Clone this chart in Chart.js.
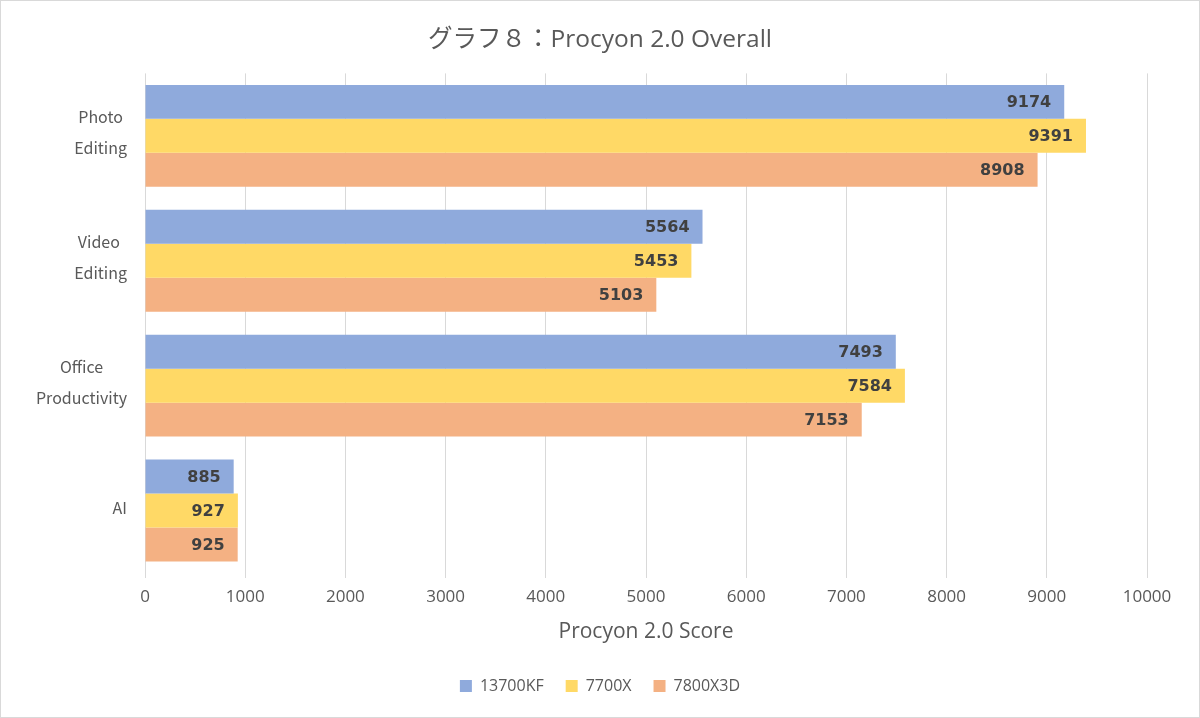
<!DOCTYPE html>
<html>
<head>
<meta charset="utf-8">
<script src="https://cdn.jsdelivr.net/npm/chart.js@4.4.0/dist/chart.umd.min.js"></script>
<style>
  html, body { margin:0; padding:0; background:#fff; }
  #wrap { width:1200px; height:718px; position:relative; }
</style>
</head>
<body>
<div id="wrap"><canvas id="chart" width="1200" height="718"></canvas></div>
<script>
const categorias = [['Photo', 'Editing'], ['Video ', 'Editing'], ['Office', 'Productivity'], ['AI']];
const series     = ['13700KF', '7700X', '7800X3D'];
const v13700KF   = [9174, 5564, 7493, 885];
const v7700X     = [9391, 5453, 7584, 927];
const v7800X3D   = [8908, 5103, 7153, 925];
const colores    = ['#8faadc', '#ffd966', '#f4b183'];
const ticksX     = [0, 1000, 2000, 3000, 4000, 5000, 6000, 7000, 8000, 9000, 10000];

const TXT = '#595959';
const FONT = '"Noto Sans CJK JP", "Open Sans", sans-serif';
const FONT_LAT = '"Open Sans", "Noto Sans CJK JP", sans-serif';

// etiquetas de valor dentro del final de cada barra
const valorPlugin = {
  id: 'valores',
  afterDatasetsDraw(chart) {
    const ctx = chart.ctx;
    ctx.save();
    ctx.font = 'bold 16px "DejaVu Sans", sans-serif';
    ctx.fillStyle = '#404040';
    ctx.textAlign = 'right';
    ctx.textBaseline = 'middle';
    chart.data.datasets.forEach((ds, i) => {
      chart.getDatasetMeta(i).data.forEach((bar, j) => {
        ctx.fillText(String(ds.data[j]), bar.x - 13, bar.y + 1);
      });
    });
    ctx.restore();
  }
};

// categorias a la izquierda: bloque alineado a la derecha, lineas centradas
const catPlugin = {
  id: 'categorias',
  afterDraw(chart) {
    const ctx = chart.ctx;
    const y = chart.scales.y;
    ctx.save();
    ctx.font = '16px ' + FONT;
    ctx.fillStyle = TXT;
    ctx.textAlign = 'center';
    ctx.textBaseline = 'middle';
    const lh = 31, derecha = 127;
    categorias.forEach((lineas, i) => {
      const ancho = Math.max(...lineas.map(l => ctx.measureText(l).width));
      const cx = derecha - ancho / 2;
      const cy = y.getPixelForValue(i) - 3;
      const y0 = cy - (lineas.length - 1) * lh / 2;
      lineas.forEach((l, k) => ctx.fillText(l, cx, y0 + k * lh));
    });
    // marco
    ctx.strokeStyle = '#d9d9d9';
    ctx.lineWidth = 1;
    ctx.strokeRect(0.5, 0.5, chart.width - 1, chart.height - 1);
    ctx.restore();
  }
};

new Chart(document.getElementById('chart'), {
  type: 'bar',
  data: {
    labels: categorias.map(c => c.join(' ')),
    datasets: series.map((s, i) => ({
      label: s,
      data: [v13700KF, v7700X, v7800X3D][i],
      backgroundColor: colores[i],
      borderWidth: 0,
      categoryPercentage: 0.816,
      barPercentage: 1.0
    }))
  },
  options: {
    indexAxis: 'y',
    responsive: false,
    animation: false,
    layout: { padding: { top: 6, right: 0, bottom: 14, left: 0 } },
    plugins: {
      title: {
        display: true,
        text: 'グラフ８：Procyon 2.0 Overall',
        color: TXT,
        font: { family: FONT_LAT, size: 24.5, weight: 'normal' },
        padding: { top: 19, bottom: 19 }
      },
      legend: {
        position: 'bottom',
        labels: {
          color: TXT,
          font: { family: FONT_LAT, size: 16 },
          boxWidth: 12,
          boxHeight: 12,
          padding: 22
        }
      },
      tooltip: { enabled: false }
    },
    scales: {
      x: {
        min: 0,
        max: 10000,
        afterBuildTicks: s => { s.ticks = ticksX.map(v => ({ value: v })); },
        afterFit: s => { s.height = 83; },
        grid: { color: '#d9d9d9', tickLength: 5, tickColor: '#d9d9d9' },
        border: { display: false },
        ticks: {
          color: TXT,
          font: { family: FONT_LAT, size: 17 },
          padding: 9,
          maxRotation: 0,
          callback: v => String(v)
        },
        title: {
          display: true,
          text: 'Procyon 2.0 Score',
          color: TXT,
          font: { family: FONT_LAT, size: 21 },
          padding: { top: 4, bottom: 11 }
        }
      },
      y: {
        afterFit: s => { s.width = 145; },
        grid: { display: false },
        border: { display: false },
        ticks: { display: false }
      },
      // margen derecho vacio, para que titulo y leyenda queden centrados en el lienzo
      margen: {
        type: 'linear',
        position: 'right',
        afterFit: s => { s.width = 53; },
        grid: { display: false },
        border: { display: false },
        ticks: { display: false }
      }
    }
  },
  plugins: [valorPlugin, catPlugin]
});
</script>
</body>
</html>
